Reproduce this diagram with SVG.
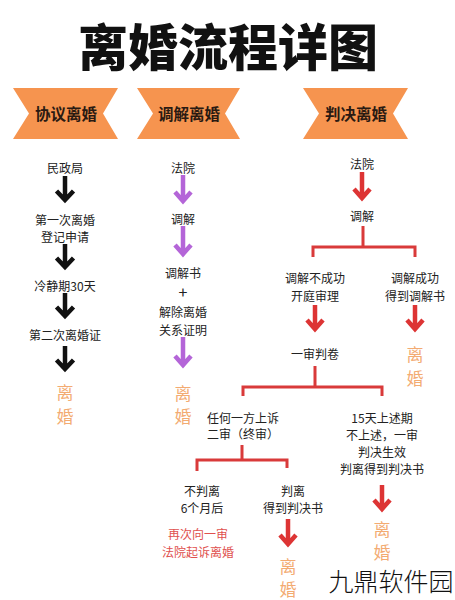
<svg xmlns="http://www.w3.org/2000/svg" width="455" height="600" viewBox="0 0 455 600">
<defs>
<style>
.t{font-family:"Noto Sans CJK SC","Noto Sans",sans-serif;font-size:12px;fill:#222;text-anchor:middle;dominant-baseline:central}
.title{font-family:"Noto Sans CJK SC",sans-serif;font-size:50px;font-weight:900;fill:#111;text-anchor:middle;dominant-baseline:central}
.rt{font-family:"Noto Sans CJK SC",sans-serif;font-size:15.5px;font-weight:700;fill:#2a1a12;text-anchor:middle;dominant-baseline:central}
.o{font-family:"Noto Sans CJK SC",sans-serif;font-size:17px;fill:#F3AB72;text-anchor:middle;dominant-baseline:central}
.pink{fill:#E0504E}
.wm{font-family:"Noto Sans CJK SC",sans-serif;font-size:25px;font-weight:300;fill:#111;text-anchor:middle;dominant-baseline:central}
.rib{fill:#F6944F}
.ab{fill:none;stroke:#111;stroke-width:4.5}
.ap{fill:none;stroke:#B465D8;stroke-width:4.5}
.ar{fill:none;stroke:#DD3434;stroke-width:4.5}
.ln{fill:none;stroke:#D93A3A;stroke-width:3}
</style>
</defs>
<rect width="455" height="600" fill="#fff"/>
<text class="title" x="228" y="44">离婚流程详图</text>

<g id="ribbon1"><path class="rib" d="M13,88 L118,88 L103,113.5 L118,139 L13,139 L29,113.5 Z"/><text class="rt" x="66" y="113">协议离婚</text></g>
<g id="ribbon2"><path class="rib" d="M137,88 L240,88 L225,113.5 L240,139 L137,139 L153,113.5 Z"/><text class="rt" x="189" y="113">调解离婚</text></g>
<g id="ribbon3"><path class="rib" d="M303,88 L408,88 L393,113.5 L408,139 L303,139 L319,113.5 Z"/><text class="rt" x="356" y="113">判决离婚</text></g>

<g id="col1">
<text class="t" x="65" y="167">民政局</text>
<text class="t" x="65" y="219">第一次离婚</text>
<text class="t" x="65" y="236">登记申请</text>
<text class="t" x="65" y="285">冷静期30天</text>
<text class="t" x="65" y="334">第二次离婚证</text>
<text class="o" x="65" y="391">离</text>
<text class="o" x="65" y="415">婚</text>
</g>
<g id="col2">
<text class="t" x="183" y="167">法院</text>
<text class="t" x="183" y="218">调解</text>
<text class="t" x="183" y="272">调解书</text>
<text class="t" x="183" y="291" style="font-size:16px">+</text>
<text class="t" x="183" y="311">解除离婚</text>
<text class="t" x="183" y="329">关系证明</text>
<text class="o" x="183" y="392">离</text>
<text class="o" x="183" y="415">婚</text>
</g>
<g id="col3">
<text class="t" x="362" y="163">法院</text>
<text class="t" x="362" y="215">调解</text>
<text class="t" x="315" y="277">调解不成功</text>
<text class="t" x="315" y="295">开庭审理</text>
<text class="t" x="415" y="277">调解成功</text>
<text class="t" x="415" y="295">得到调解书</text>
<text class="t" x="315" y="353">一审判卷</text>
<text class="o" x="415" y="353">离</text>
<text class="o" x="415" y="377">婚</text>
<text class="t" x="243" y="417">任何一方上诉</text>
<text class="t" x="243" y="433">二审（终审）</text>
<text class="t" x="382" y="417">15天上述期</text>
<text class="t" x="382" y="434">不上述，一审</text>
<text class="t" x="382" y="451">判决生效</text>
<text class="t" x="382" y="468">判离得到判决书</text>
<text class="t" x="202" y="490">不判离</text>
<text class="t" x="202" y="507">6个月后</text>
<text class="t" x="293" y="490">判离</text>
<text class="t" x="293" y="507">得到判决书</text>
<text class="t pink" x="198" y="533">再次向一审</text>
<text class="t pink" x="198" y="551">法院起诉离婚</text>
<text class="o" x="288" y="565">离</text>
<text class="o" x="288" y="588">婚</text>
<text class="o" x="382" y="528">离</text>
<text class="o" x="382" y="551">婚</text>
</g>

<g id="connectors">
<path class="ab" d="M65,176 V201 M56.5,191 L65,200 L73.5,191"/>
<path class="ab" d="M65,244 V268 M56.5,258 L65,267 L73.5,258"/>
<path class="ab" d="M65,293 V317 M56.5,307 L65,316 L73.5,307"/>
<path class="ab" d="M65,346 V370 M56.5,360 L65,369 L73.5,360"/>
<path class="ap" d="M183,175 V202 M175,192 L183,201 L191,192"/>
<path class="ap" d="M183,226 V255 M175,245 L183,254 L191,245"/>
<path class="ap" d="M183,337 V366 M175,356 L183,365 L191,356"/>
<path class="ar" d="M362,172 V199 M354,189 L362,198 L370,189"/>
<path class="ln" d="M363,226 V247 M313,257 V247 H415 V257"/>
<path class="ar" d="M315,305 V330 M307,320 L315,329 L323,320"/>
<path class="ar" d="M415,305 V330 M407,320 L415,329 L423,320"/>
<path class="ln" d="M315,366 V387 M243,396 V387 H382 V396"/>
<path class="ln" d="M242,445 V460 M197,471 V460 H287 V468"/>
<path class="ar" d="M288,519 V545 M280,535 L288,544 L296,535"/>
<path class="ar" d="M382,485 V510 M374,500 L382,509 L390,500"/>
</g>
<text class="wm" x="391" y="580">九鼎软件园</text>
</svg>
